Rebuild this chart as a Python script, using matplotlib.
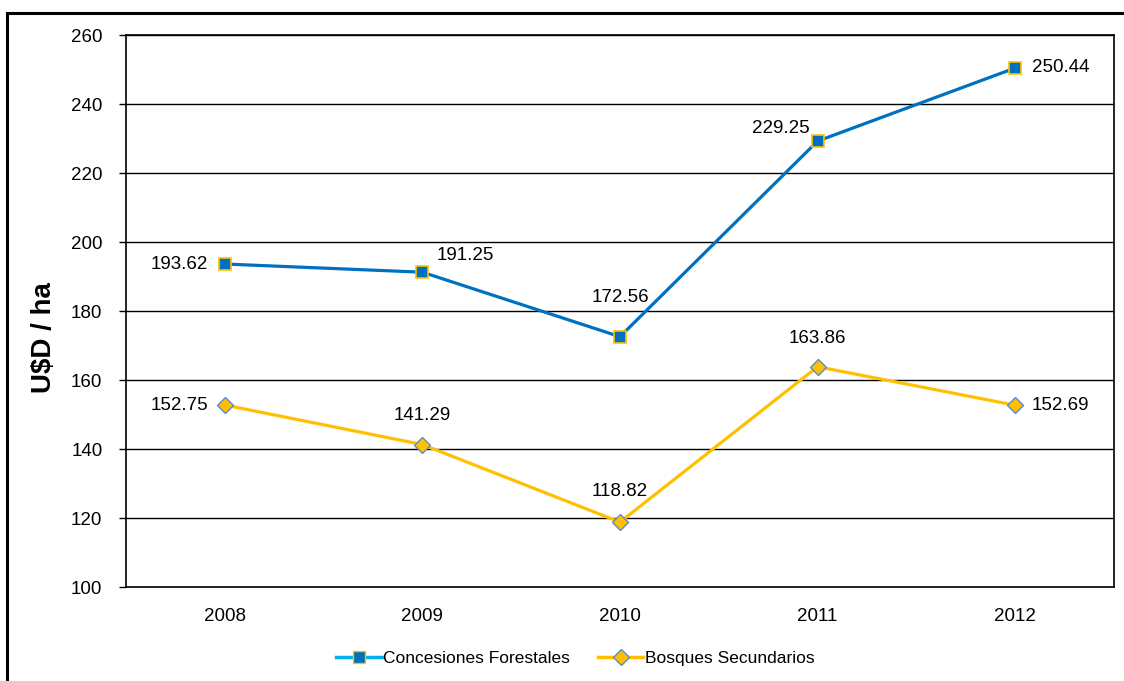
import matplotlib.pyplot as plt
from matplotlib.lines import Line2D
from matplotlib.patches import Rectangle

plt.rcParams['font.family'] = ['Liberation Sans', 'DejaVu Sans']

years = ["2008", "2009", "2010", "2011", "2012"]
concesiones = [193.62, 191.25, 172.56, 229.25, 250.44]
bosques = [152.75, 141.29, 118.82, 163.86, 152.69]

# label placement (offset in points, ha, va) per point
conc_offsets = [((-12, 0), 'right', 'center'), ((10, 6), 'left', 'bottom'),
                ((0, 22), 'center', 'bottom'), ((-6, 3), 'right', 'bottom'),
                ((12, 0), 'left', 'center')]
bosq_offsets = [((-12, 0), 'right', 'center'), ((0, 15), 'center', 'bottom'),
                ((0, 16), 'center', 'bottom'), ((0, 14), 'center', 'bottom'),
                ((12, 0), 'left', 'center')]

blue = "#0070C0"
yellow = "#FFC000"
fs = 13.5

fig = plt.figure(figsize=(11.24, 6.81), dpi=100)
ax = fig.add_axes([0.1121, 0.138, 0.8790, 0.8106])

x = range(len(years))
ax.plot(x, concesiones, color=blue, lw=2.3, marker='s', ms=9,
        mfc=blue, mec=yellow, mew=1.2, zorder=3)
ax.plot(x, bosques, color=yellow, lw=2.3, marker='D', ms=8,
        mfc=yellow, mec="#5B8BC9", mew=1.0, zorder=3)

for i, v in enumerate(concesiones):
    off, ha, va = conc_offsets[i]
    ax.annotate(f"{v:.2f}", (i, v), xytext=off, textcoords='offset points',
                ha=ha, va=va, fontsize=fs)
for i, v in enumerate(bosques):
    off, ha, va = bosq_offsets[i]
    ax.annotate(f"{v:.2f}", (i, v), xytext=off, textcoords='offset points',
                ha=ha, va=va, fontsize=fs)

ax.set_xlim(-0.5, 4.5)
ax.set_ylim(100, 260)
ax.set_yticks(range(100, 261, 20))
ax.set_xticks(list(x))
ax.set_xticklabels(years)
ax.tick_params(axis='x', length=0, pad=15, labelsize=fs)
ax.tick_params(axis='y', length=5, width=1, pad=12, labelsize=fs)
ax.grid(axis='y', color='black', lw=1)
ax.set_axisbelow(True)
for s in ax.spines.values():
    s.set_color('black')
    s.set_linewidth(1.2)

ax.set_ylabel("U$D / ha", fontsize=20, fontweight='bold')
ax.yaxis.set_label_coords(-0.070, 0.451)

handles = [
    Line2D([], [], color="#00B0F0", lw=2.5, marker='s', ms=9, mfc=blue, mec=yellow),
    Line2D([], [], color=yellow, lw=2.5, marker='D', ms=8, mfc=yellow, mec="#5B8BC9"),
]
fig.legend(handles, ["Concesiones Forestales", "Bosques Secundarios"],
           loc='center', bbox_to_anchor=(0.512, 0.033), ncol=2, frameon=False,
           fontsize=12.5, handlelength=2.6, handletextpad=0.1, columnspacing=1.6)

# outer chart border
fig.patches.append(Rectangle((7 / 1124, -0.2), 1.2, 1.2 - 13 / 681,
                             transform=fig.transFigure, fill=False,
                             edgecolor='black', lw=2.2))

fig.savefig("out.png", dpi=100)
